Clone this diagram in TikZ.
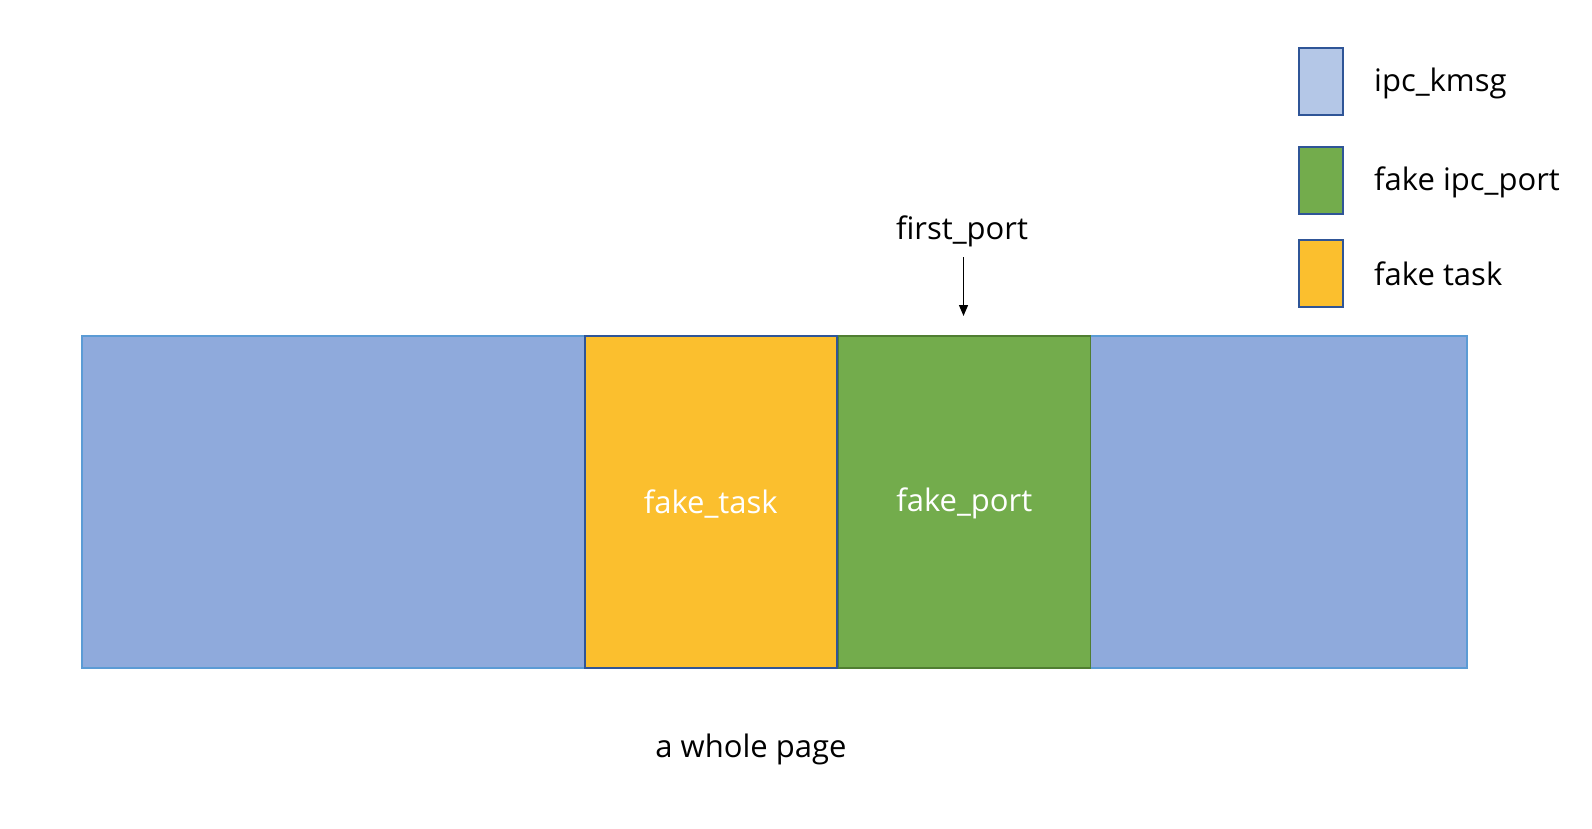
\documentclass[tikz,border=0pt]{standalone}
\usepackage{fontspec}
\setmainfont{Open Sans}
\usetikzlibrary{arrows.meta}
\definecolor{kmsg}{HTML}{8FAADC}
\definecolor{kmsgedge}{HTML}{5B9BD5}
\definecolor{kmsglight}{HTML}{B4C7E7}
\definecolor{darkblue}{HTML}{2F5597}
\definecolor{taskfill}{HTML}{FBBF2E}
\definecolor{portfill}{HTML}{73AC4C}
\definecolor{portedge}{HTML}{507E32}
\begin{document}
\begin{tikzpicture}[x=1pt,y=-1pt,
  block/.style={draw, line width=1.5pt, inner sep=0pt, anchor=north west},
  legbox/.style={draw=darkblue, line width=1.8pt, minimum width=44pt, minimum height=67pt, inner sep=0pt, anchor=north west},
  legtext/.style={anchor=west, font=\fontsize{31}{36}\selectfont, inner sep=0pt},
  intext/.style={font=\fontsize{31}{36}\selectfont, text=white},
  plain/.style={font=\fontsize{31}{36}\selectfont}]
\useasboundingbox (0,0) rectangle (1592,828);
% page
\node[block, draw=kmsgedge, fill=kmsg, minimum width=1385pt, minimum height=332pt] (page) at (81,335) {};
\node[block, draw=darkblue, fill=taskfill, minimum width=252pt, minimum height=332pt] (task) at (584,335) {};
\node[block, draw=portedge, fill=portfill, minimum width=252pt, minimum height=332pt] (port) at (837.5,335) {};
\node[intext] (tasklbl) at ([yshift=-2pt]task.center) {fake\_task};
\node[intext] (portlbl) at ([yshift=-2pt]port.center) {fake\_port};
% labels
\node[plain] (first) at (962,231) {first\_port};
\coordinate (arrend) at (963.5,316);
\draw[line width=1.3pt, -{Triangle[length=11pt,width=9pt]}] (963.5,257) -- (arrend);
\node[plain] (whole) at (751,749) {a whole page};
% legend
\node[legbox, fill=kmsglight] (l1) at (1298,47) {};
\node[legbox, fill=portfill] (l2) at (1298,146) {};
\node[legbox, fill=taskfill] (l3) at (1298,239) {};
\node[legtext] (t1) at (1374,83) {ipc\_kmsg};
\node[legtext] (t2) at (1374,182) {fake ipc\_port};
\node[legtext] (t3) at (1374,274) {fake task};
\end{tikzpicture}
\end{document}
